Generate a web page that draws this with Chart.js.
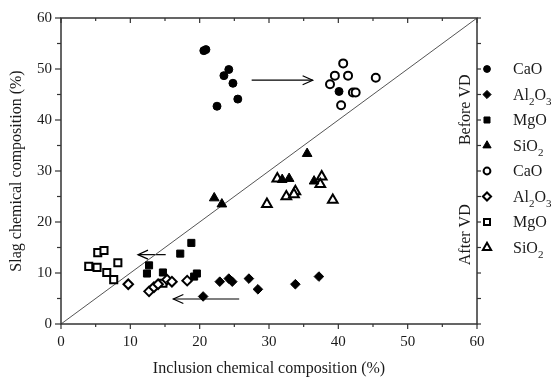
<!DOCTYPE html>
<html>
<head>
<meta charset="utf-8">
<script src="https://cdn.jsdelivr.net/npm/chart.js@4.4.1/dist/chart.umd.min.js"></script>
<style>
  html, body { margin: 0; padding: 0; background: #fff; }
  #wrap { width: 554px; height: 384px; }
</style>
</head>
<body>
<div id="wrap"><canvas id="chart" width="554" height="384"></canvas></div>
<script>
// [inclusion %, slag %]
const caoBefore = [[20.6, 53.6], [20.9, 53.8], [24.2, 49.9], [23.5, 48.7], [24.8, 47.2], [25.5, 44.1], [22.5, 42.7], [40.1, 45.6]];
const al2o3Before = [[20.5, 5.4], [22.9, 8.3], [24.2, 8.9], [24.7, 8.3], [27.1, 8.9], [28.4, 6.8], [33.8, 7.8], [37.2, 9.3]];
const mgoBefore = [[18.8, 15.9], [17.2, 13.8], [12.7, 11.5], [12.4, 9.9], [14.7, 10.1], [19.6, 9.9], [19.2, 9.3]];
const sio2Before = [[22.1, 24.7], [23.2, 23.5], [35.5, 33.4], [31.9, 28.3], [32.9, 28.5], [36.5, 28.0]];

const caoAfter = [[40.7, 51.1], [39.5, 48.7], [41.4, 48.7], [38.8, 47.0], [45.4, 48.3], [42.1, 45.4], [42.5, 45.4], [40.4, 42.9]];
const al2o3After = [[9.7, 7.8], [12.7, 6.4], [13.4, 7.2], [14.0, 7.8], [15.3, 8.7], [16.0, 8.3], [18.2, 8.5]];
const mgoAfter = [[5.3, 14.0], [6.2, 14.4], [4.0, 11.3], [5.2, 11.1], [6.6, 10.1], [8.2, 12.0], [7.6, 8.7], [14.7, 8.0]];
const sio2After = [[31.2, 28.5], [29.7, 23.5], [32.5, 25.0], [33.8, 26.0], [33.6, 25.4], [37.6, 28.9], [37.4, 27.4], [39.2, 24.3]];

const diagonal = [[0, 0], [60, 60]];
// arrows: [from, to]
const arrows = [
    [[27.5, 47.8], [36.3, 47.8]],
    [[15.1, 13.6], [11.1, 13.6]],
    [[25.7, 4.9], [16.2, 4.9]]
];

const axisTicks = [0, 10, 20, 30, 40, 50, 60];

// legend rows sit on the right-axis ticks
const legendRows = [
    { parts: [['CaO', 0]], style: 'circle', filled: true, at: 50 },
    { parts: [['Al', 0], ['2', 1], ['O', 0], ['3', 1]], style: 'rectRot', filled: true, at: 45 },
    { parts: [['MgO', 0]], style: 'rect', filled: true, at: 40 },
    { parts: [['SiO', 0], ['2', 1]], style: 'triangle', filled: true, at: 35 },
    { parts: [['CaO', 0]], style: 'circle', filled: false, at: 30 },
    { parts: [['Al', 0], ['2', 1], ['O', 0], ['3', 1]], style: 'rectRot', filled: false, at: 25 },
    { parts: [['MgO', 0]], style: 'rect', filled: false, at: 20 },
    { parts: [['SiO', 0], ['2', 1]], style: 'triangle', filled: false, at: 15 }
];
const groupLabels = [['Before VD', 42], ['After VD', 17.5]];

const serif = "'Liberation Serif', 'Times New Roman', serif";
const ink = '#1a1a1a';
const axisColor = '#333';

const markerSize = { circle: 4, rectRot: 4.8, rect: 5, triangle: 5.6 };

const toPts = arr => arr.map(p => ({ x: p[0], y: p[1] }));

function scatterSet(data, style, filled) {
    return {
        type: 'scatter',
        data: toPts(data),
        pointStyle: style,
        pointRadius: markerSize[style],
        pointHoverRadius: markerSize[style],
        backgroundColor: filled ? '#000' : '#fff',
        borderColor: '#000',
        borderWidth: filled ? 1 : 2
    };
}

function lineSet(data, color, width) {
    return {
        type: 'line',
        data: toPts(data),
        borderColor: color,
        borderWidth: width,
        pointRadius: 0,
        fill: false,
        tension: 0
    };
}

const framePlugin = {
    id: 'frame',
    afterDraw(chart) {
        const { ctx, chartArea: a, scales: { x, y } } = chart;
        const seg = (x1, y1, x2, y2) => { ctx.beginPath(); ctx.moveTo(x1, y1); ctx.lineTo(x2, y2); ctx.stroke(); };
        ctx.save();

        // box + ticks
        ctx.strokeStyle = axisColor;
        ctx.lineWidth = 1.5;
        ctx.strokeRect(a.left, a.top, a.right - a.left, a.bottom - a.top);
        ctx.lineWidth = 1.2;
        for (let v = 0; v <= 60; v += 5) {
            const major = v % 10 === 0;
            const px = x.getPixelForValue(v);
            const py = y.getPixelForValue(v);
            seg(px, a.bottom, px, a.bottom + (major ? 5 : 3));
            seg(px, a.top, px, a.top + (major ? 5 : 3));
            seg(a.left, py, a.left - (major ? 6 : 4), py);
            seg(a.right, py, a.right + 4, py);
        }

        // open arrow heads
        ctx.strokeStyle = '#000';
        ctx.lineWidth = 1.2;
        arrows.forEach(([from, to]) => {
            const tx = x.getPixelForValue(to[0]), ty = y.getPixelForValue(to[1]);
            const fx = x.getPixelForValue(from[0]), fy = y.getPixelForValue(from[1]);
            const ang = Math.atan2(ty - fy, tx - fx);
            const len = 11, spread = 0.42;
            ctx.beginPath();
            ctx.moveTo(tx - len * Math.cos(ang - spread), ty - len * Math.sin(ang - spread));
            ctx.lineTo(tx, ty);
            ctx.lineTo(tx - len * Math.cos(ang + spread), ty - len * Math.sin(ang + spread));
            ctx.stroke();
        });

        // legend
        const mx = a.right + 10, tx0 = a.right + 36;
        legendRows.forEach(row => {
            const py = y.getPixelForValue(row.at);
            ctx.fillStyle = row.filled ? '#000' : '#fff';
            ctx.strokeStyle = '#000';
            ctx.lineWidth = row.filled ? 1 : 2;
            const r = markerSize[row.style] * 0.85;
            Chart.helpers.drawPoint(ctx, { pointStyle: row.style, radius: r, borderWidth: ctx.lineWidth }, mx, py);
            let cx = tx0;
            ctx.fillStyle = ink;
            ctx.textAlign = 'left';
            ctx.textBaseline = 'alphabetic';
            row.parts.forEach(([txt, sub]) => {
                ctx.font = (sub ? '11px ' : '16px ') + serif;
                ctx.fillText(txt, cx, py + 5 + (sub ? 5 : 0));
                cx += ctx.measureText(txt).width;
            });
        });

        // group captions, rotated, just inside the right axis
        ctx.font = '16px ' + serif;
        ctx.fillStyle = ink;
        ctx.textAlign = 'center';
        ctx.textBaseline = 'middle';
        groupLabels.forEach(([txt, v]) => {
            ctx.save();
            ctx.translate(a.right - 11, y.getPixelForValue(v));
            ctx.rotate(-Math.PI / 2);
            ctx.fillText(txt, 0, 0);
            ctx.restore();
        });
        ctx.restore();
    }
};

const datasets = [
    scatterSet(caoBefore, 'circle', true),
    scatterSet(al2o3Before, 'rectRot', true),
    scatterSet(mgoBefore, 'rect', true),
    scatterSet(sio2Before, 'triangle', true),
    scatterSet(caoAfter, 'circle', false),
    scatterSet(al2o3After, 'rectRot', false),
    scatterSet(mgoAfter, 'rect', false),
    scatterSet(sio2After, 'triangle', false),
    lineSet(diagonal, '#555', 1)
].concat(arrows.map(a => lineSet(a, '#000', 1.2)));

// diagonal and arrows underneath the markers
datasets.forEach(d => { d.order = d.type === 'line' ? 2 : 1; });

new Chart(document.getElementById('chart'), {
    data: { datasets },
    options: {
        responsive: false,
        animation: false,
        layout: { padding: { top: 15, right: 77, left: 0, bottom: 0 } },
        plugins: { legend: { display: false }, tooltip: { enabled: false } },
        scales: {
            x: {
                type: 'linear',
                min: 0, max: 60,
                afterBuildTicks: s => { s.ticks = axisTicks.map(v => ({ value: v })); },
                afterFit: s => { s.height = 60; },
                grid: { display: false, drawTicks: false },
                border: { display: false },
                ticks: { color: ink, padding: 9, font: { family: serif, size: 15 } },
                title: {
                    display: true,
                    text: 'Inclusion chemical composition (%)',
                    color: ink,
                    font: { family: serif, size: 16 },
                    padding: { top: 0, bottom: 6 }
                }
            },
            y: {
                type: 'linear',
                min: 0, max: 60,
                afterBuildTicks: s => { s.ticks = axisTicks.map(v => ({ value: v })); },
                afterFit: s => { s.width = 61; },
                grid: { display: false, drawTicks: false },
                border: { display: false },
                ticks: { color: ink, padding: 9, font: { family: serif, size: 15 } },
                title: {
                    display: true,
                    text: 'Slag chemical composition (%)',
                    color: ink,
                    font: { family: serif, size: 16 },
                    padding: { top: 7, bottom: 0 }
                }
            }
        }
    },
    plugins: [framePlugin]
});
</script>
</body>
</html>
